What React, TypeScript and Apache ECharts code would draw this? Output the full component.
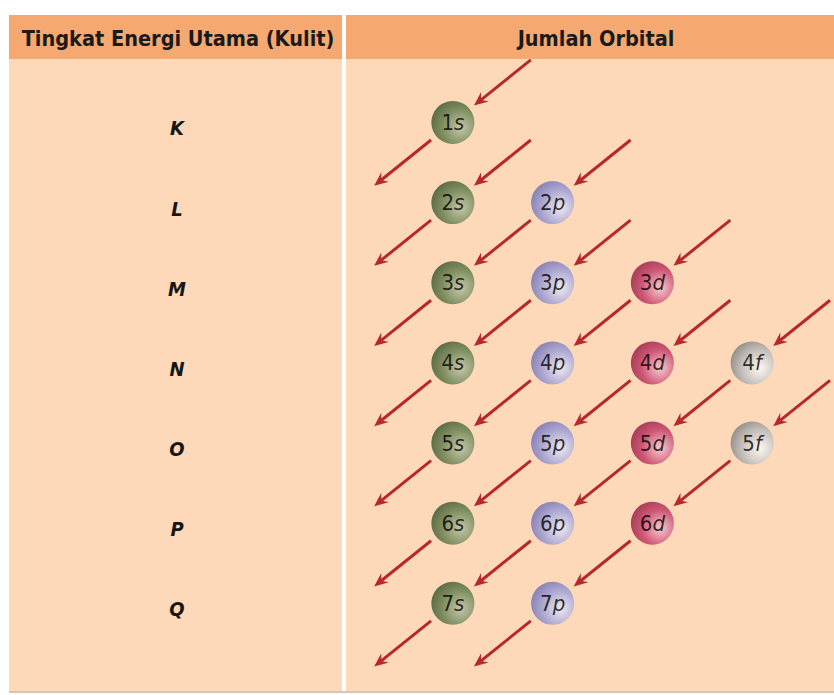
import React, { useEffect, useRef } from 'react';
import * as echarts from 'echarts';

// ---- data ----
const shells = ['K', 'L', 'M', 'N', 'O', 'P', 'Q'];
const subshellTypes = ['s', 'p', 'd', 'f'];
const orbitals = [
  '1s',
  '2s', '2p',
  '3s', '3p', '3d',
  '4s', '4p', '4d', '4f',
  '5s', '5p', '5d', '5f',
  '6s', '6p', '6d',
  '7s', '7p',
];
const headerLeft = 'Tingkat Energi Utama (Kulit)';
const headerRight = 'Jumlah Orbital';

// ---- styles ----
const FONT = '"DejaVu Sans Condensed", "DejaVu Sans", "Noto Sans", sans-serif';
const HEADER_BG = '#f5a970';
const BODY_BG = '#fdd9b9';
const ARROW = '#b8272d';
const sphereStops: Record<string, string[]> = {
  s: ['#b6c2a5', '#5f7b49', '#2c4622'],
  p: ['#ececf9', '#9799d6', '#6062ad'],
  d: ['#f6c6d4', '#c23564', '#861034'],
  f: ['#ffffff', '#b5b7ba', '#6f7175'],
};

function parseOrbital(o: string) {
  const n = parseInt(o.slice(0, -1), 10);
  const l = o.slice(-1);
  return { n, l, row: n - 1, col: subshellTypes.indexOf(l) };
}

const App: React.FC = () => {
  const ref = useRef<HTMLDivElement>(null);

  useEffect(() => {
    if (!ref.current) return;
    const chart = echarts.init(ref.current, undefined, { renderer: 'svg' });

    const parsed = orbitals.map(parseOrbital);
    const has = (n: number, l: number) =>
      parsed.some((p) => p.n === n && p.col === l);

    // every orbital has an outgoing arrow along its diagonal
    const outgoing = parsed.map((p) => [p.col, p.row]);
    // first orbital of each diagonal gets an incoming arrow
    const incoming = parsed
      .filter((p) => !has(p.n - 1, p.col + 1))
      .map((p) => [p.col, p.row]);

    const makeArrow = (startOff: number, endOff: number) =>
      (params: any, api: any) => {
        const c = api.coord([api.value(0), api.value(1)]);
        const o = api.coord([0, 0]);
        const cxp = api.coord([1, 0]);
        const cyp = api.coord([0, 1]);
        const ux0 = -(cxp[0] - o[0]);
        const uy0 = cyp[1] - o[1];
        const len = Math.hypot(ux0, uy0);
        const ux = ux0 / len;
        const uy = uy0 / len;
        const x1 = c[0] + ux * startOff;
        const y1 = c[1] + uy * startOff;
        const x2 = c[0] + ux * endOff;
        const y2 = c[1] + uy * endOff;
        const head = 14;
        const half = 6;
        const nx = -uy;
        const ny = ux;
        const bx = x2 - ux * head;
        const by = y2 - uy * head;
        const mx = x2 - ux * head * 0.65;
        const my = y2 - uy * head * 0.65;
        return {
          type: 'group',
          children: [
            {
              type: 'line',
              shape: { x1, y1, x2: mx, y2: my },
              style: { stroke: ARROW, lineWidth: 3 },
            },
            {
              type: 'polygon',
              shape: {
                points: [
                  [x2, y2],
                  [bx + nx * half, by + ny * half],
                  [mx, my],
                  [bx - nx * half, by - ny * half],
                ],
              },
              style: { fill: ARROW },
            },
          ],
        };
      };

    const sphereSeries = subshellTypes.map((t) => {
      const st = sphereStops[t];
      return {
        type: 'scatter',
        name: t,
        symbol: 'circle',
        symbolSize: 43,
        z: 5,
        itemStyle: {
          color: new echarts.graphic.RadialGradient(0.68, 0.62, 0.78, [
            { offset: 0, color: st[0] },
            { offset: 0.55, color: st[1] },
            { offset: 1, color: st[2] },
          ]),
        },
        label: {
          show: true,
          position: 'inside',
          formatter: (p: any) => `{n|${p.value[2]}}{l|${t}}`,
          rich: {
            n: { fontFamily: FONT, fontSize: 22, color: '#000000', fontStyle: 'normal' },
            l: { fontFamily: FONT, fontSize: 22, color: '#000000', fontStyle: 'italic' },
          },
        },
        data: parsed
          .filter((p) => p.l === t)
          .map((p) => [p.col, p.row, p.n]),
      };
    });

    chart.setOption({
      animation: false,
      backgroundColor: '#ffffff',
      grid: { left: 403, width: 399, top: 82.4, height: 561 },
      xAxis: {
        type: 'category',
        data: subshellTypes,
        show: false,
      },
      yAxis: {
        type: 'category',
        data: shells,
        inverse: true,
        axisLine: { show: false },
        axisTick: { show: false },
        splitLine: { show: false },
        axisLabel: {
          margin: 226,
          align: 'center',
          verticalAlign: 'top',
          lineHeight: 12,
          fontFamily: FONT,
          fontSize: 20,
          fontWeight: 'bold',
          fontStyle: 'italic',
          color: '#151515',
        },
      },
      graphic: [
        { type: 'rect', z: -10, shape: { x: 9, y: 15, width: 333, height: 44 }, style: { fill: HEADER_BG } },
        { type: 'rect', z: -10, shape: { x: 346, y: 15, width: 488, height: 44 }, style: { fill: HEADER_BG } },
        { type: 'rect', z: -10, shape: { x: 9, y: 59, width: 333, height: 634 }, style: { fill: BODY_BG } },
        { type: 'rect', z: -10, shape: { x: 346, y: 59, width: 488, height: 634 }, style: { fill: BODY_BG } },
        { type: 'rect', z: -10, shape: { x: 9, y: 691, width: 825, height: 2 }, style: { fill: '#d8c4b2' } },
        {
          type: 'text', z: 10, x: 178, y: 38,
          style: { text: headerLeft, font: `bold 21.5px ${FONT}`, fill: '#1a1a1a', textAlign: 'center', textVerticalAlign: 'middle' },
        },
        {
          type: 'text', z: 10, x: 596, y: 38,
          style: { text: headerRight, font: `bold 21.5px ${FONT}`, fill: '#1a1a1a', textAlign: 'center', textVerticalAlign: 'middle' },
        },
      ],
      series: [
        {
          type: 'custom',
          name: 'arrows-out',
          renderItem: makeArrow(28, 101),
          data: outgoing,
          z: 3,
          clip: false,
        },
        {
          type: 'custom',
          name: 'arrows-in',
          renderItem: makeArrow(-100, -27),
          data: incoming,
          z: 3,
          clip: false,
        },
        ...sphereSeries,
      ],
    });

    return () => chart.dispose();
  }, []);

  return (
    <div
      ref={ref}
      style={{ position: 'fixed', left: 0, top: 0, width: 834, height: 695 }}
    />
  );
};

export default App;
